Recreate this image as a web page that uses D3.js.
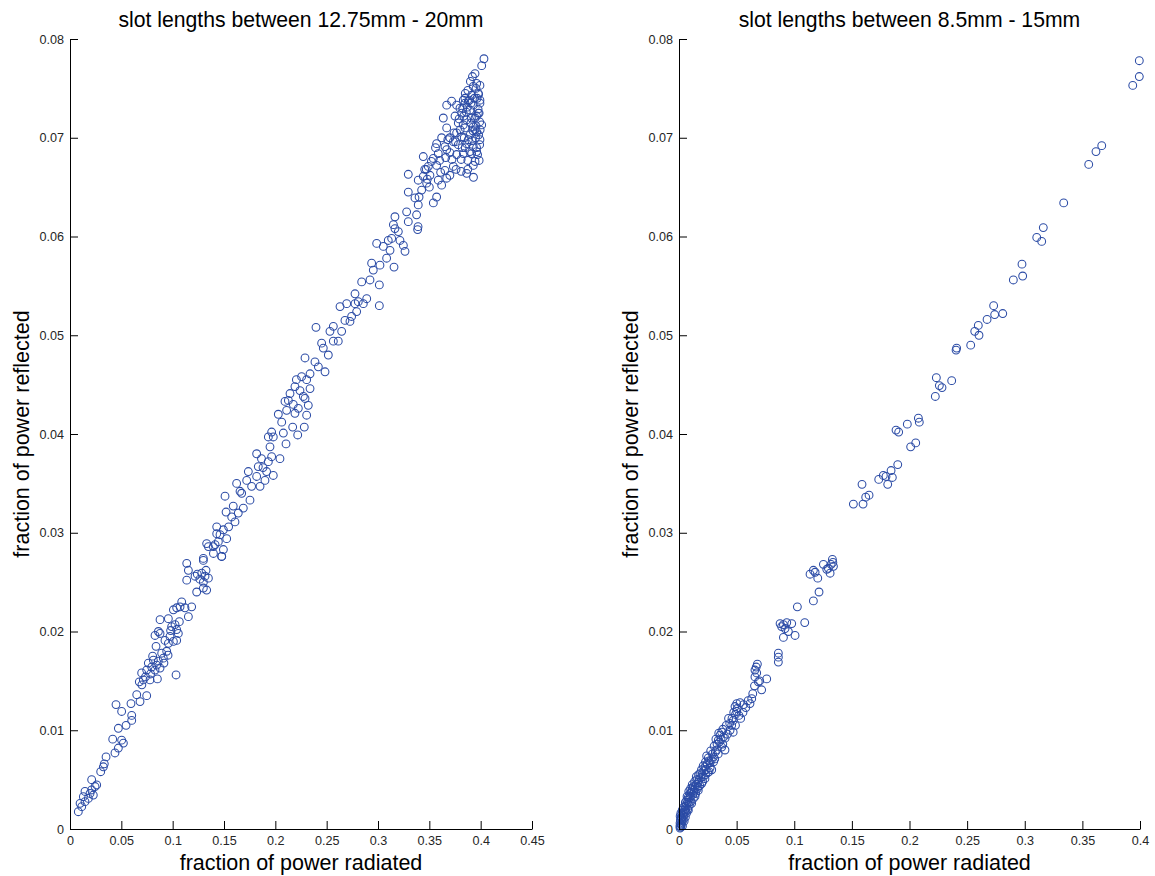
<!DOCTYPE html>
<html>
<head>
<meta charset="utf-8">
<script src="https://cdn.jsdelivr.net/npm/d3@7"></script>
<style>
  html, body { margin: 0; padding: 0; background: #fff; }
  svg { display: block; }
  .tick text { font-family: "Liberation Sans", Arial, sans-serif; font-size: 12.6px; fill: #262626; }
  .title { font-family: "Liberation Sans", Arial, sans-serif; font-size: 21.2px; fill: #000; }
  .axis-label { font-family: "Liberation Sans", Arial, sans-serif; font-size: 21.5px; fill: #000; }
</style>
</head>
<body>
<svg id="chart" width="1155" height="876"></svg>
<script>
// Slot lengths 12.75mm - 20mm: [fraction radiated, fraction reflected]
const wideSlotPoints = [
  [0.0081,0.00175],[0.0114,0.00226],[0.0098,0.0026],[0.0146,0.00277],[0.0130,0.00327],[0.0179,0.0031],
  [0.0195,0.0036],[0.0227,0.00344],[0.0211,0.00395],[0.0244,0.0043],[0.0146,0.0038],[0.0211,0.0050],
  [0.0260,0.00446],[0.0299,0.0058],[0.0325,0.0063],[0.0334,0.0066],[0.0351,0.0073],[0.0438,0.0077],
  [0.0471,0.0082],[0.0520,0.0087],[0.0503,0.0090],[0.0416,0.0091],[0.0471,0.0102],[0.0546,0.0105],
  [0.0601,0.0110],[0.0601,0.0115],[0.0503,0.0119],[0.0448,0.0126],[0.0594,0.0127],[0.0650,0.0136],
  [0.0682,0.0129],[0.0747,0.0135],[0.0675,0.0149],[0.0714,0.0151],[0.0779,0.0151],[0.0851,0.0152],
  [0.1033,0.0156],[0.0698,0.0158],[0.0747,0.0161],[0.0796,0.0164],[0.0844,0.0166],[0.0763,0.0168],
  [0.0812,0.0171],[0.0877,0.0163],[0.0909,0.0173],[0.0893,0.0178],[0.0942,0.0180],[0.0838,0.0185],
  [0.0958,0.0188],[0.0925,0.0191],[0.1007,0.0190],[0.1039,0.0191],[0.0828,0.0196],[0.0877,0.0198],
  [0.0974,0.0195],[0.0861,0.0200],[0.0990,0.0205],[0.1039,0.0202],[0.1023,0.0207],[0.0877,0.0212],
  [0.0958,0.0213],[0.1007,0.0222],[0.1039,0.0224],[0.1072,0.0225],[0.1120,0.0224],[0.1153,0.0215],
  [0.1088,0.0230],[0.1185,0.0225],[0.1234,0.0240],[0.1299,0.0244],[0.1331,0.0242],[0.1137,0.0252],
  [0.1218,0.0256],[0.1283,0.0259],[0.1315,0.0256],[0.1348,0.0254],[0.1299,0.0250],[0.1153,0.0262],
  [0.1137,0.0269],[0.1299,0.0272],[0.1348,0.0286],[0.1413,0.0288],[0.1397,0.0279],[0.1478,0.0276],
  [0.1494,0.0283],[0.1445,0.0291],
  [0.0785,0.0157],[0.0828,0.0161],[0.0860,0.0170],[0.0805,0.0175],[0.0915,0.0168],[0.0955,0.0176],
  [0.0735,0.0154],[0.0700,0.0146],[0.1055,0.0198],[0.0980,0.0201],[0.1065,0.0210],[0.1265,0.0253],
  [0.1325,0.0262],[0.1240,0.0258],
  [0.1299,0.0274],[0.1396,0.0286],[0.1477,0.0276],[0.1331,0.0289],[0.1429,0.0299],[0.1494,0.0303],
  [0.1461,0.0298],[0.1526,0.0294],[0.1429,0.0306],[0.1520,0.0321],[0.1510,0.0337],[0.1639,0.0320],
  [0.1607,0.0311],[0.1688,0.0325],[0.1623,0.0350],[0.1656,0.0342],[0.1672,0.0340],[0.1737,0.0362],
  [0.1721,0.0353],[0.1769,0.0347],[0.1753,0.0333],[0.1818,0.0357],[0.1834,0.0367],[0.1851,0.0347],
  [0.1899,0.0353],[0.1915,0.0362],[0.1818,0.0380],[0.1932,0.0372],[0.1980,0.0358],[0.1964,0.0377],
  [0.1948,0.0387],[0.2045,0.0375],[0.1980,0.0397],[0.1932,0.0397],[0.1964,0.0402],[0.2104,0.0390],
  [0.2078,0.0401],[0.2218,0.0399],[0.2169,0.0407],[0.2282,0.0407],[0.2062,0.0412],[0.2029,0.0420],
  [0.2110,0.0424],[0.2191,0.0421],[0.2224,0.0426],[0.2305,0.0419],[0.2321,0.0429],[0.2094,0.0433],
  [0.2143,0.0441],[0.2127,0.0434],[0.2191,0.0448],[0.2273,0.0438],[0.2289,0.0436],[0.2338,0.0446],
  [0.2256,0.0458],[0.2305,0.0455],[0.2338,0.0461],[0.2289,0.0477],[0.2386,0.0473],[0.2419,0.0468],
  [0.2484,0.0463],[0.2467,0.0487],[0.2516,0.0480],[0.2451,0.0492],[0.2565,0.0494],[0.2613,0.0494],
  [0.2396,0.0508],[0.2532,0.0504],[0.2565,0.0509],[0.2646,0.0504],[0.2678,0.0515],[0.2727,0.0514],
  [0.2743,0.0519],[0.2630,0.0529],[0.2695,0.0532],[0.2792,0.0524],[0.2776,0.0532],[0.2857,0.0532],
  [0.1575,0.0316],[0.1545,0.0306],[0.1590,0.0327],[0.2175,0.0430],[0.2240,0.0444],[0.2205,0.0455],
  [0.1880,0.0366],[0.1865,0.0375],
  [0.2841,0.0554],[0.2922,0.0556],[0.3013,0.0551],[0.2954,0.0566],[0.3019,0.0571],[0.2938,0.0573],
  [0.3156,0.0569],[0.3084,0.0578],[0.2987,0.0593],[0.3052,0.0590],[0.3117,0.0586],[0.3133,0.0598],
  [0.3100,0.0596],[0.3214,0.0596],[0.3263,0.0585],[0.3247,0.0591],[0.3165,0.0608],[0.3198,0.0605],
  [0.3165,0.0620],[0.3295,0.0615],[0.3386,0.0607],[0.3279,0.0625],[0.3392,0.0632],[0.3376,0.0622],
  [0.3295,0.0645],[0.3360,0.0639],[0.3571,0.0640],[0.3539,0.0634],[0.3425,0.0647],[0.3474,0.0654],
  [0.3392,0.0657],[0.3441,0.0661],[0.3295,0.0663],[0.3506,0.0662],[0.3587,0.0657],[0.3669,0.0659],
  [0.3490,0.0671],[0.3571,0.0672],[0.3652,0.0667],[0.3734,0.0671],[0.3864,0.0664],[0.3928,0.0672],
  [0.3441,0.0681],[0.3539,0.0679],[0.3587,0.0684],[0.3669,0.0688],[0.3766,0.0683],[0.3831,0.0684],
  [0.3912,0.0684],[0.3961,0.0686],[0.3571,0.0694],[0.3652,0.0691],[0.3734,0.0696],[0.3782,0.0693],
  [0.3864,0.0694],[0.3928,0.0691],[0.3993,0.0698],[0.3815,0.0701],[0.3896,0.0703],[0.3961,0.0706],
  [0.3766,0.0705],[0.3847,0.0710],[0.3928,0.0711],[0.3782,0.0715],[0.3864,0.0718],[0.3945,0.0720],
  [0.4010,0.0713],[0.3815,0.0725],[0.3896,0.0728],[0.3977,0.0725],[0.3766,0.0733],[0.3847,0.0735],
  [0.3928,0.0733],[0.3669,0.0733],[0.3636,0.0720],[0.3669,0.0710],[0.3993,0.0735],
  [0.2808,0.0534],[0.2776,0.0542],[0.2890,0.0537],[0.3013,0.0530],
  [0.4032,0.0780],[0.4010,0.0773],[0.3945,0.0765],[0.3961,0.0755],[0.3993,0.0753],[0.3928,0.0752],
  [0.3912,0.0743],[0.3977,0.0745],[0.3847,0.0740],[0.3880,0.0737],[0.3993,0.0738],[0.3717,0.0737],
  [0.3831,0.0738],
  [0.3798,0.0730],[0.3700,0.0700],[0.3750,0.0722],[0.3880,0.0698],[0.3950,0.0700],[0.3960,0.0690],
  [0.3990,0.0716],[0.3980,0.0744],[0.3900,0.0757],[0.3850,0.0690],[0.3700,0.0685],[0.3610,0.0665],
  [0.3480,0.0658],[0.3400,0.0640],[0.3500,0.0650],[0.3150,0.0612],[0.3390,0.0610],[0.3470,0.0668],
  [0.3600,0.0677],[0.3975,0.0729],[0.3955,0.0712],[0.3910,0.0720],[0.3830,0.0713],[0.3860,0.0726],
  [0.3940,0.0740],[0.3925,0.0707],[0.3990,0.0693],[0.3895,0.0686],[0.3810,0.0678],[0.3740,0.0705],
  [0.3960,0.0722],[0.3980,0.0703],[0.3850,0.0745],
  [0.3875,0.0748],[0.3920,0.0762],[0.3965,0.0740],[0.3985,0.0725],[0.3905,0.0735],[0.3870,0.0731],
  [0.3835,0.0722],[0.3790,0.0719],[0.3905,0.0715],[0.3945,0.0708],[0.3995,0.0708],[0.3840,0.0700],
  [0.3800,0.0708],[0.3755,0.0696],[0.3915,0.0697],[0.3970,0.0683],[0.3945,0.0676],[0.3875,0.0677],
  [0.3820,0.0690],[0.3720,0.0678],[0.3680,0.0698],[0.3620,0.0700],[0.3560,0.0690],[0.3520,0.0676],
  [0.3455,0.0668],[0.3620,0.0652],[0.3700,0.0662],[0.3810,0.0666],[0.3985,0.0677],[0.3930,0.0660],
  [0.3875,0.0668],[0.3760,0.0668],[0.3660,0.0680],[0.3890,0.0738],[0.3955,0.0750],[0.3825,0.0730]
];

// Slot lengths 8.5mm - 15mm: [fraction radiated, fraction reflected]
const narrowSlotPoints = [
  [0.3994,0.0778],[0.3994,0.0762],[0.3937,0.0753],[0.3668,0.0692],[0.3618,0.0686],[0.3555,0.0673],
  [0.3338,0.0634],[0.3161,0.0609],[0.3104,0.0599],[0.3147,0.0595],[0.2976,0.0572],[0.2982,0.0560],
  [0.2901,0.0556],[0.2730,0.0530],[0.2809,0.0522],[0.2739,0.0521],[0.2673,0.0516],[0.2597,0.0510],
  [0.2566,0.0504],[0.2603,0.0500],[0.2531,0.0490],[0.2409,0.0487],[0.2404,0.0485],[0.2233,0.0457],
  [0.2366,0.0454],[0.2259,0.0449],[0.2282,0.0447],[0.2224,0.0438],[0.2077,0.0416],[0.2085,0.0412],
  [0.1981,0.0410],[0.1883,0.0404],[0.1906,0.0402],[0.2054,0.0391],[0.2010,0.0387],[0.1898,0.0369],
  [0.1840,0.0363],[0.1773,0.0358],[0.1733,0.0354],[0.1796,0.0357],[0.1851,0.0356],[0.1811,0.0349],
  [0.1588,0.0349],[0.1649,0.0338],[0.1620,0.0336],[0.1597,0.0329],[0.1513,0.0329],
  [0.1331,0.0273],[0.1253,0.0268],[0.1282,0.0263],[0.1311,0.0259],[0.1340,0.0266],[0.1166,0.0262],
  [0.1137,0.0258],[0.1204,0.0254],[0.1181,0.0260],[0.1296,0.0264],[0.1215,0.0240],[0.1166,0.0231],
  [0.1027,0.0225],[0.1091,0.0209],[0.0877,0.0208],[0.0906,0.0207],[0.0935,0.0209],[0.0978,0.0208],
  [0.0949,0.0200],[0.1007,0.0196],[0.0906,0.0194],[0.0890,0.0205],[0.0920,0.0203],[0.1320,0.0268],
  [0.1335,0.0270],
  [0.0862,0.0178],[0.0862,0.0174],[0.0862,0.0169],[0.0680,0.0167],[0.0659,0.0161],[0.0674,0.0158],
  [0.0659,0.0154],[0.0688,0.0149],[0.0761,0.0152],[0.0717,0.0141],[0.0631,0.0132],[0.0616,0.0127],
  [0.0501,0.0127],[0.0486,0.0124],[0.0501,0.0119],[0.0535,0.0112],[0.0471,0.0110],[0.0457,0.0105],
  [0.0443,0.0100],[0.0356,0.0095],[0.0385,0.0093],[0.0341,0.0090],[0.0371,0.0083],[0.0399,0.0080],
  [0.0327,0.0080],[0.0298,0.0073],[0.0254,0.0072],[0.0269,0.0067],[0.0226,0.0063],[0.0284,0.0060],
  [0.0182,0.0056],[0.0211,0.0053],[0.0154,0.0050],[0.0197,0.0046],[0.0124,0.0043],[0.0167,0.0039],
  [0.0095,0.0036],[0.0139,0.0033],[0.0067,0.0029],[0.0110,0.0026],[0.0052,0.0023],[0.0081,0.0019],
  [0.0037,0.0016],[0.0023,0.0011],[0.0009,0.0006],[0.0009,0.0001],
  [0.0505,0.0122],[0.0490,0.0116],[0.0520,0.0115],[0.0460,0.0112],[0.0440,0.0107],[0.0470,0.0098],
  [0.0420,0.0096],[0.0400,0.0092],[0.0370,0.0098],[0.0350,0.0088],[0.0365,0.0091],[0.0330,0.0086],
  [0.0315,0.0078],[0.0340,0.0076],[0.0290,0.0076],[0.0280,0.0070],[0.0300,0.0068],[0.0260,0.0069],
  [0.0245,0.0066],[0.0270,0.0062],[0.0235,0.0060],[0.0250,0.0057],[0.0215,0.0059],[0.0200,0.0055],
  [0.0225,0.0051],[0.0190,0.0052],[0.0175,0.0050],[0.0205,0.0048],[0.0165,0.0047],[0.0180,0.0044],
  [0.0150,0.0045],[0.0140,0.0042],[0.0160,0.0041],[0.0130,0.0039],[0.0115,0.0040],[0.0145,0.0036],
  [0.0120,0.0035],[0.0105,0.0037],[0.0100,0.0033],[0.0125,0.0031],[0.0090,0.0031],[0.0080,0.0032],
  [0.0105,0.0028],[0.0075,0.0027],[0.0090,0.0024],[0.0065,0.0025],[0.0060,0.0021],[0.0075,0.0020],
  [0.0050,0.0019],[0.0065,0.0016],[0.0045,0.0017],[0.0040,0.0013],[0.0055,0.0012],[0.0030,0.0014],
  [0.0035,0.0009],[0.0045,0.0008],[0.0025,0.0007],[0.0020,0.0004],[0.0030,0.0003],[0.0015,0.0002],
  [0.0012,0.0009],[0.0020,0.0012],[0.0028,0.0019],[0.0040,0.0022],[0.0055,0.0027],[0.0070,0.0033],
  [0.0085,0.0038],[0.0100,0.0041],[0.0115,0.0045],[0.0135,0.0048],[0.0150,0.0053],[0.0170,0.0055],
  [0.0195,0.0060],[0.0210,0.0064],[0.0230,0.0068],[0.0240,0.0074],[0.0275,0.0079],[0.0305,0.0084],
  [0.0320,0.0091],[0.0345,0.0097],[0.0380,0.0101],[0.0410,0.0105],[0.0430,0.0112],[0.0475,0.0118],
  [0.0555,0.0118],[0.0580,0.0123],[0.0600,0.0130],[0.0640,0.0137],[0.0655,0.0145],[0.0700,0.0150],
  [0.0670,0.0164],[0.0560,0.0126],[0.0530,0.0128],[0.0490,0.0105],[0.0380,0.0086],[0.0310,0.0071],
  [0.0260,0.0058],[0.0230,0.0055],[0.0165,0.0043],[0.0130,0.0037],[0.0090,0.0027],[0.0060,0.0018],
  [0.0025,0.0010],[0.0015,0.0005],[0.0008,0.0003],[0.0010,0.0013],[0.0016,0.0016]
];

const yTicks = [0, 0.01, 0.02, 0.03, 0.04, 0.05, 0.06, 0.07, 0.08];
const yTickLabels = ["0", "0.01", "0.02", "0.03", "0.04", "0.05", "0.06", "0.07", "0.08"];
const wideXTicks = [0, 0.05, 0.1, 0.15, 0.2, 0.25, 0.3, 0.35, 0.4, 0.45];
const wideXTickLabels = ["0", "0.05", "0.1", "0.15", "0.2", "0.25", "0.3", "0.35", "0.4", "0.45"];
const narrowXTicks = [0, 0.05, 0.1, 0.15, 0.2, 0.25, 0.3, 0.35, 0.4];
const narrowXTickLabels = ["0", "0.05", "0.1", "0.15", "0.2", "0.25", "0.3", "0.35", "0.4"];

const panels = [
  { title: "slot lengths between 12.75mm - 20mm", points: wideSlotPoints,
    xMax: 0.45, xTicks: wideXTicks, xLabels: wideXTickLabels, left: 70, right: 532 },
  { title: "slot lengths between 8.5mm - 15mm", points: narrowSlotPoints,
    xMax: 0.4, xTicks: narrowXTicks, xLabels: narrowXTickLabels, left: 679, right: 1140 }
];

const plotTop = 39, plotBottom = 829;
const markerColor = "#2c4ca6";
const svg = d3.select("#chart");

panels.forEach(p => {
  const x = d3.scaleLinear().domain([0, p.xMax]).range([p.left, p.right]);
  const y = d3.scaleLinear().domain([0, 0.08]).range([plotBottom, plotTop]);
  const g = svg.append("g");

  // hollow circle markers
  g.append("g")
    .selectAll("circle")
    .data(p.points)
    .join("circle")
    .attr("cx", d => x(d[0]))
    .attr("cy", d => y(d[1]))
    .attr("r", 3.9)
    .attr("fill", "none")
    .attr("stroke", markerColor)
    .attr("stroke-width", 1.05);

  // axes with inward ticks
  const xAxis = d3.axisBottom(x)
    .tickValues(p.xTicks)
    .tickFormat((d, i) => p.xLabels[i])
    .tickSizeInner(-8).tickSizeOuter(0).tickPadding(7);
  const yAxis = d3.axisLeft(y)
    .tickValues(yTicks)
    .tickFormat((d, i) => yTickLabels[i])
    .tickSizeInner(-8).tickSizeOuter(0).tickPadding(6);

  const gx = g.append("g").attr("transform", `translate(0,${plotBottom})`).call(xAxis);
  const gy = g.append("g").attr("transform", `translate(${p.left},0)`).call(yAxis);
  [gx, gy].forEach(a => {
    a.attr("font-family", null).attr("font-size", null);
    a.selectAll("path, line").attr("stroke", "#000").attr("stroke-width", 1);
  });

  const cx = (p.left + p.right) / 2;
  g.append("text").attr("class", "title")
    .attr("x", cx).attr("y", 27).attr("text-anchor", "middle").text(p.title);
  g.append("text").attr("class", "axis-label")
    .attr("x", cx).attr("y", 870).attr("text-anchor", "middle").text("fraction of power radiated");
  g.append("text").attr("class", "axis-label")
    .attr("transform", `translate(${p.left - 41},${(plotTop + plotBottom) / 2}) rotate(-90)`)
    .attr("text-anchor", "middle").text("fraction of power reflected");
});
</script>
</body>
</html>
